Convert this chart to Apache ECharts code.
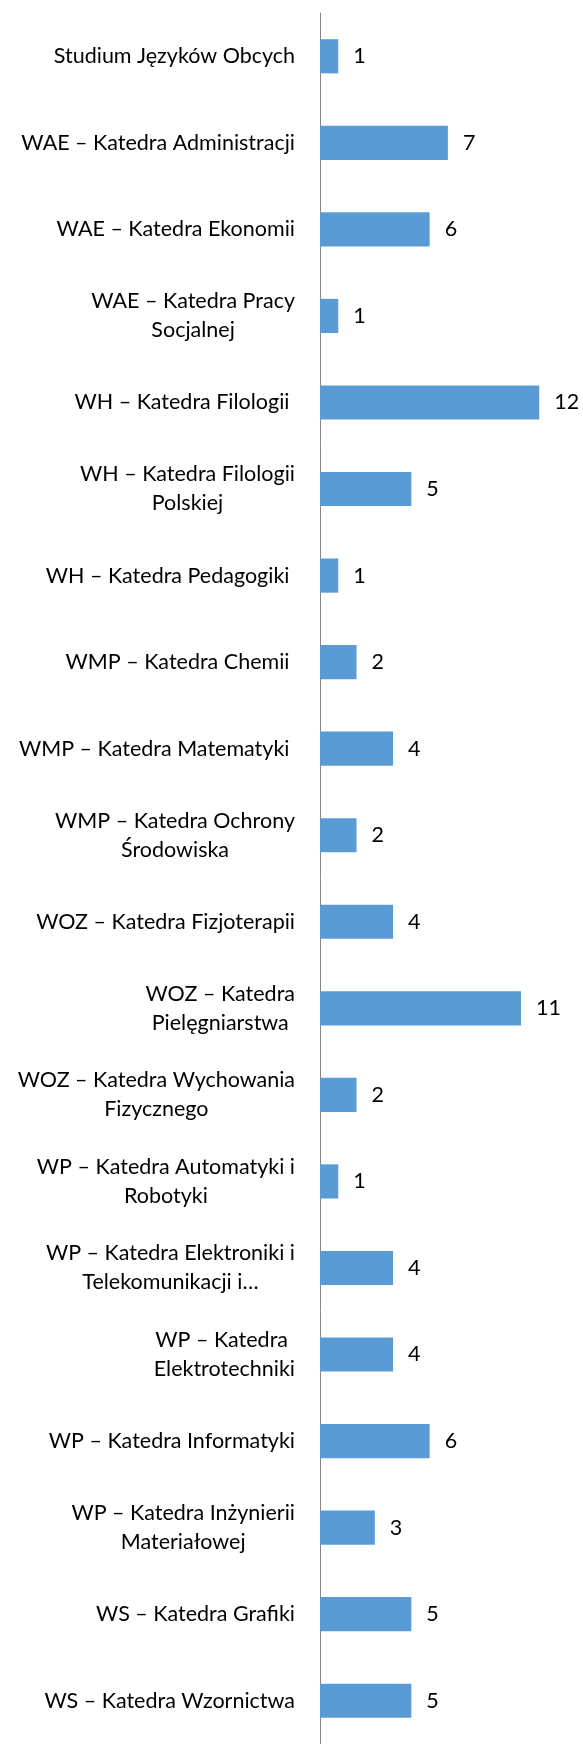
<!DOCTYPE html>
<html>
<head>
<meta charset="utf-8">
<script src="https://cdn.jsdelivr.net/npm/echarts@6/dist/echarts.min.js"></script>
<style>
  html, body { margin: 0; padding: 0; background: #fff; }
  #chart { width: 583px; height: 1744px; }
</style>
</head>
<body>
<div id="chart"></div>
<script>
// Categories (line breaks as wrapped in the original)
const categories = [
  "Studium Języków Obcych",
  "WAE – Katedra Administracji",
  "WAE – Katedra Ekonomii",
  "WAE – Katedra Pracy\nSocjalnej",
  "WH – Katedra Filologii ",
  "WH – Katedra Filologii\nPolskiej",
  "WH – Katedra Pedagogiki ",
  "WMP – Katedra Chemii ",
  "WMP – Katedra Matematyki ",
  "WMP – Katedra Ochrony\nŚrodowiska",
  "WOZ – Katedra Fizjoterapii",
  "WOZ – Katedra\nPielęgniarstwa",
  "WOZ – Katedra Wychowania\nFizycznego",
  "WP – Katedra Automatyki i\nRobotyki",
  "WP – Katedra Elektroniki i\nTelekomunikacji i…",
  "WP – Katedra \nElektrotechniki",
  "WP – Katedra Informatyki",
  "WP – Katedra Inżynierii\nMateriałowej",
  "WS – Katedra Grafiki",
  "WS – Katedra Wzornictwa"
];
const values = [1, 7, 6, 1, 12, 5, 1, 2, 4, 2, 4, 11, 2, 1, 4, 4, 6, 3, 5, 5];

const FONT = 'Lato';
const FS = 21.5;

const chart = echarts.init(document.getElementById('chart'), null, { renderer: 'canvas' });
chart.setOption({
  animation: false,
  backgroundColor: '#ffffff',
  grid: { left: 320, top: 13, width: 255.8, height: 1740, containLabel: false },
  xAxis: {
    type: 'value', min: 0, max: 14, show: false
  },
  yAxis: {
    type: 'category',
    data: categories,
    inverse: true,
    axisLine: { show: true, lineStyle: { color: '#868686', width: 1 } },
    axisTick: { show: false },
    splitLine: { show: false },
    axisLabel: {
      margin: 25,
      align: 'right',
      interval: 0,
      formatter: function (v) {
        return v.split('\n').map(l => '{c|' + l + '}').join('\n');
      },
      rich: {
        c: { align: 'center', fontFamily: FONT, fontSize: FS, color: '#000', lineHeight: 29 }
      }
    }
  },
  series: [{
    type: 'bar',
    data: values,
    barWidth: '39.5%',
    itemStyle: { color: '#5B9BD5' },
    label: {
      show: true,
      position: 'right',
      distance: 15,
      fontFamily: FONT,
      fontSize: FS,
      color: '#000'
    }
  }]
});
</script>
</body>
</html>
